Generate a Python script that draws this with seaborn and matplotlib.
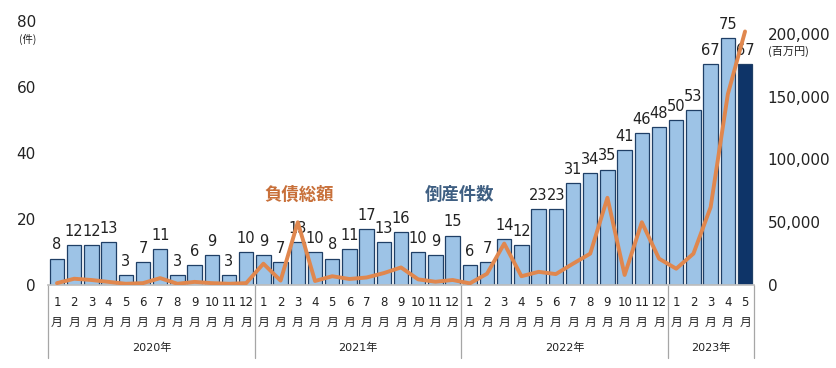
import numpy as np
import pandas as pd
import matplotlib
matplotlib.use('Agg')
import matplotlib.pyplot as plt
import seaborn as sns

# monthly bankruptcy counts (件), Jan 2020 - May 2023
counts = [8, 12, 12, 13, 3, 7, 11, 3, 6, 9, 3, 10,
          9, 7, 13, 10, 8, 11, 17, 13, 16, 10, 9, 15,
          6, 7, 14, 12, 23, 23, 31, 34, 35, 41, 46, 48,
          50, 53, 67, 75, 67]
# total liabilities (百万円)
debt = [1500, 5000, 4000, 2500, 1000, 1500, 5500, 1000, 2500, 1500, 1000, 1500,
        17000, 3500, 50000, 3200, 7000, 4800, 6000, 9500, 14000, 4500, 2600, 4000,
        1300, 9000, 33000, 7000, 10500, 8700, 17000, 25000, 69500, 8000, 50000, 21000,
        13000, 25000, 62000, 152000, 202000]
months = [1, 2, 3, 4, 5, 6, 7, 8, 9, 10, 11, 12] * 3 + [1, 2, 3, 4, 5]
years = ['2020年', '2021年', '2022年', '2023年']
year_lengths = [12, 12, 12, 5]

df = pd.DataFrame({'pos': range(len(counts)), 'count': counts, 'debt': debt})
df['kind'] = ['past'] * (len(counts) - 1) + ['latest']

sns.set_theme(style='white')
plt.rcParams['font.family'] = ['DejaVu Sans', 'Noto Sans CJK JP']

fig = plt.figure(figsize=(8.37, 3.68), dpi=100)
ax = fig.add_axes([0.0578, 0.2255, 0.8426, 0.7163])

sns.barplot(data=df, x='pos', y='count', hue='kind',
            palette={'past': '#9DC3E6', 'latest': '#0E3468'}, saturation=1,
            edgecolor='#1F3F66', linewidth=0.9, width=0.84,
            legend=False, ax=ax)
for c in ax.containers:
    ax.bar_label(c, fontsize=10.5, padding=4.5, color='#222222')

ax.set_xlim(-0.5, len(counts) - 0.5)
ax.set_ylim(0, 80)
ax.set_yticks([0, 20, 40, 60, 80])
ax.set_ylabel('')
ax.set_xlabel('')
ax.set_xticks(range(len(counts)))
ax.set_xticklabels([f'{m}\n月' for m in months], fontsize=8.5, linespacing=1.7,
                   color='#222222')
ax.tick_params(axis='x', length=0, pad=8)
ax.tick_params(axis='y', length=0, pad=9, labelsize=11, labelcolor='#222222')
for s in ['top', 'right', 'left']:
    ax.spines[s].set_visible(False)
ax.spines['bottom'].set_color('#BFBFBF')

ax.text(-0.0296, 0.933, '(件)', transform=ax.transAxes, fontsize=7.5,
        ha='center', va='center', family=['Noto Sans CJK JP'], color='#222222')

# year group lines and labels
start = 0
edges = [-0.5]
for y, n in zip(years, year_lengths):
    end = start + n
    edges.append(end - 0.5)
    ax.text((start + end - 1) / 2, -0.24, y, transform=ax.get_xaxis_transform(),
            fontsize=8, ha='center', va='center', color='#222222')
    start = end
for e in edges:
    ax.axvline(e, ymin=-0.275, ymax=0, color='#A6A6A6', lw=0.9, clip_on=False)

ax2 = ax.twinx()
sns.lineplot(data=df, x='pos', y='debt', color='#E0874E', lw=2.8, ax=ax2)
ax2.set_ylim(0, 210000)
ax2.set_yticks([0, 50000, 100000, 150000, 200000])
ax2.set_yticklabels([f'{v:,}' for v in [0, 50000, 100000, 150000, 200000]])
ax2.set_ylabel('')
ax2.tick_params(axis='y', length=0, pad=10, labelsize=11, labelcolor='#222222')
for s in ax2.spines.values():
    s.set_visible(False)
ax2.text(1.0204, 0.885, '(百万円)', transform=ax2.transAxes, fontsize=8,
         ha='left', va='center', family=['Noto Sans CJK JP'], color='#222222')

ax.text(14.1, 27.3, '負債総額', fontsize=12.5, fontweight='bold', color='#C8703A',
        ha='center', va='center', family=['Noto Sans CJK JP'])
ax.text(23.4, 27.3, '倒産件数', fontsize=12.5, fontweight='bold', color='#3F5F82',
        ha='center', va='center', family=['Noto Sans CJK JP'])

fig.savefig('out.png', dpi=100)
